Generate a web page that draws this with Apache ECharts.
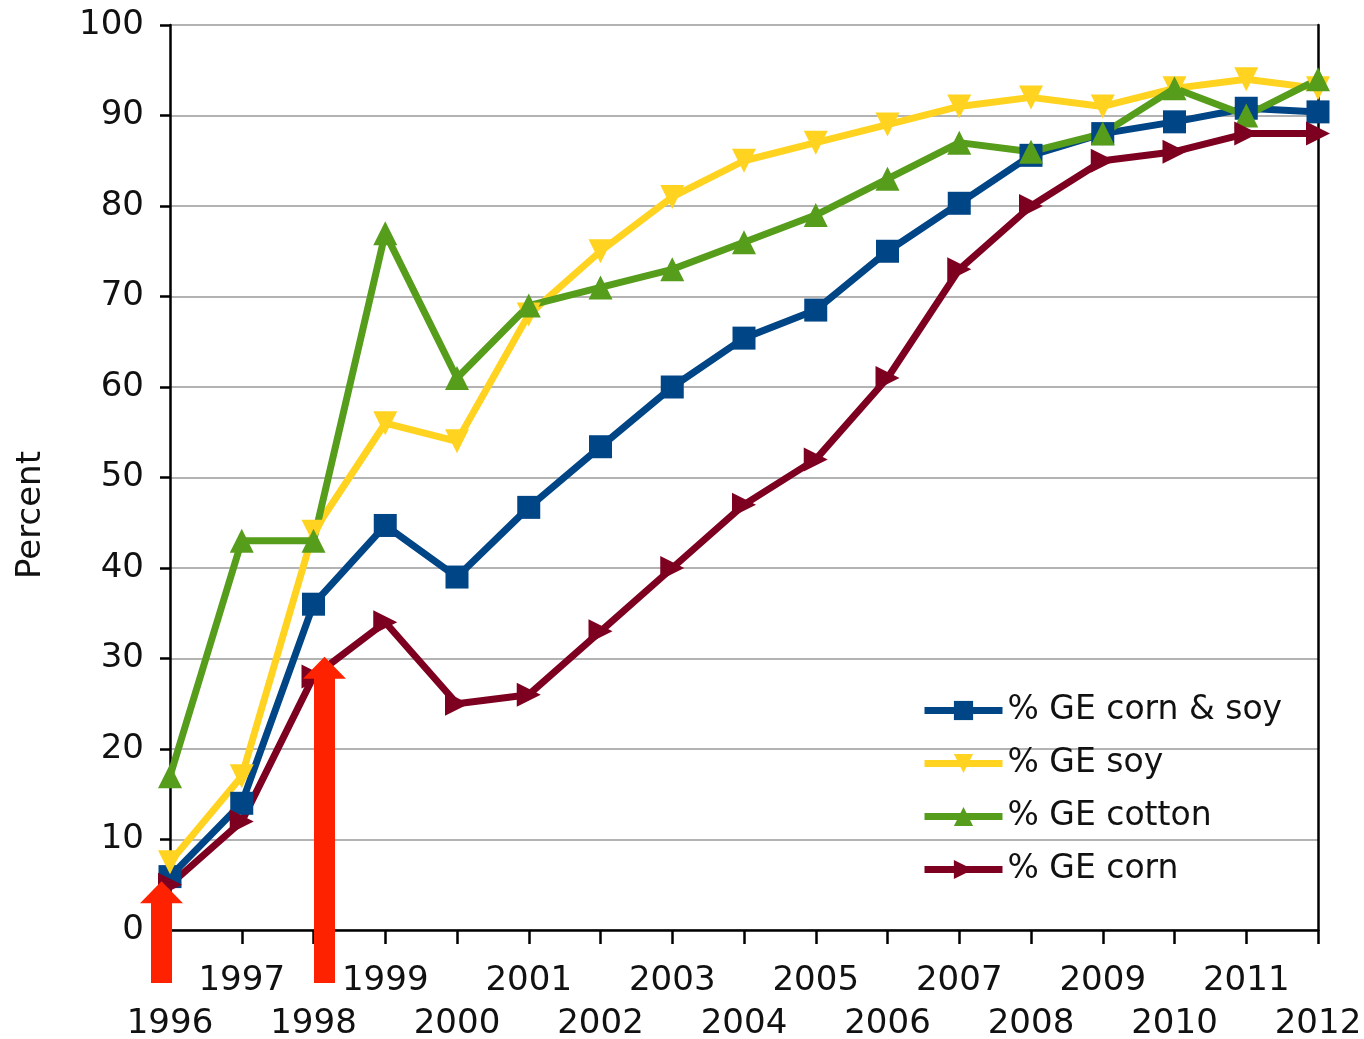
<!DOCTYPE html>
<html>
<head>
<meta charset="utf-8">
<script src="https://cdn.jsdelivr.net/npm/echarts@6/dist/echarts.min.js"></script>
<style>html,body{margin:0;padding:0;background:#fff}#c{width:1364px;height:1039px}</style>
</head>
<body>
<div id="c"></div>
<script>
const years = ['1996','1997','1998','1999','2000','2001','2002','2003','2004','2005','2006','2007','2008','2009','2010','2011','2012'];
const cornSoy = [5.9,14,36,44.7,39,46.7,53.4,60,65.4,68.5,75,80.3,85.6,88,89.3,90.8,90.4];
const soy     = [7.5,17,44,56,54,68,75,81,85,87,89,91,92,91,93,94,93];
const cotton  = [17,43,43,77,61,69,71,73,76,79,83,87,86,88,93,90,94];
const corn    = [5,12,28,34,25,26,33,40,47,52,61,73,80,85,86,88,88];
const yTicks = [0,100,10];

const font = '"DejaVu Sans", Verdana, sans-serif';
const chart = echarts.init(document.getElementById('c'));
function mk(name, data, color, symbol, rot, size) {
  return {
    name, type: 'line', data, symbol, symbolSize: size, symbolRotate: rot,
    lineStyle: { color, width: 7 }, itemStyle: { color },
    showAllSymbol: true, animation: false
  };
}
chart.setOption({
  animation: false,
  grid: { left: 170, right: 46, top: 25, bottom: 109, containLabel: false, outerBoundsMode: 'none' },
  legend: {
    orient: 'vertical', left: 916, top: 689, itemWidth: 78, itemHeight: 24, itemGap: 20,
    lineStyle: { width: 7 },
    textStyle: { fontFamily: font, fontSize: 33, color: '#111', lineHeight: 24 },
    data: ['% GE corn & soy','% GE soy','% GE cotton','% GE corn']
  },
  xAxis: {
    type: 'category', data: years, boundaryGap: false,
    axisLine: { lineStyle: { color: '#000', width: 2.5 } },
    axisTick: { length: 14, lineStyle: { color: '#000', width: 2.5 } },
    axisLabel: {
      interval: 0, margin: 30, fontFamily: font, fontSize: 34, color: '#111', lineHeight: 43,
      formatter: (v, i) => (i % 2 === 0 ? '\n' + v : v)
    },
    splitLine: { show: false }
  },
  yAxis: [{
    type: 'value', min: yTicks[0], max: yTicks[1], interval: yTicks[2],
    axisLine: { show: true, lineStyle: { color: '#000', width: 2.5 } },
    axisTick: { show: true, length: 10, lineStyle: { color: '#000', width: 2.5 } },
    axisLabel: { margin: 26, fontFamily: font, fontSize: 34, color: '#111' },
    splitLine: { lineStyle: { color: '#b3b3b3', width: 2 } }
  }, {
    type: 'value', min: yTicks[0], max: yTicks[1], interval: yTicks[2], position: 'right',
    axisLine: { show: true, lineStyle: { color: '#000', width: 2.5 } },
    axisTick: { show: false }, axisLabel: { show: false }, splitLine: { show: false }
  }],
  series: [
    mk('% GE corn & soy', cornSoy, '#004586', 'rect', 0, 23),
    mk('% GE soy', soy, '#ffd320', 'triangle', 180, 24),
    mk('% GE cotton', cotton, '#579d1c', 'triangle', 0, 24),
    mk('% GE corn', corn, '#7e0021', 'triangle', -90, 24)
  ]
});

// red annotation arrows, anchored to data positions
function arrow(cat, val, dx) {
  const p = chart.convertToPixel({ xAxisIndex: 0, yAxisIndex: 0 }, [cat, val]);
  const x = p[0] + dx, tip = p[1], base = 983;
  return {
    type: 'polygon', z: 100,
    shape: { points: [[x - 10.5, base], [x - 10.5, tip + 22], [x - 21.5, tip + 22], [x, tip], [x + 21.5, tip + 22], [x + 10.5, tip + 22], [x + 10.5, base]] },
    style: { fill: '#ff2200' }
  };
}
chart.setOption({
  graphic: [
    arrow('1996', 5.4, -8.5),
    arrow('1998', 30.2, 11),
    { type: 'text', x: 31, y: 515, rotation: Math.PI / 2,
      style: { text: 'Percent', font: '34px ' + font, fill: '#111', align: 'center', verticalAlign: 'middle' } }
  ]
});
</script>
</body>
</html>
